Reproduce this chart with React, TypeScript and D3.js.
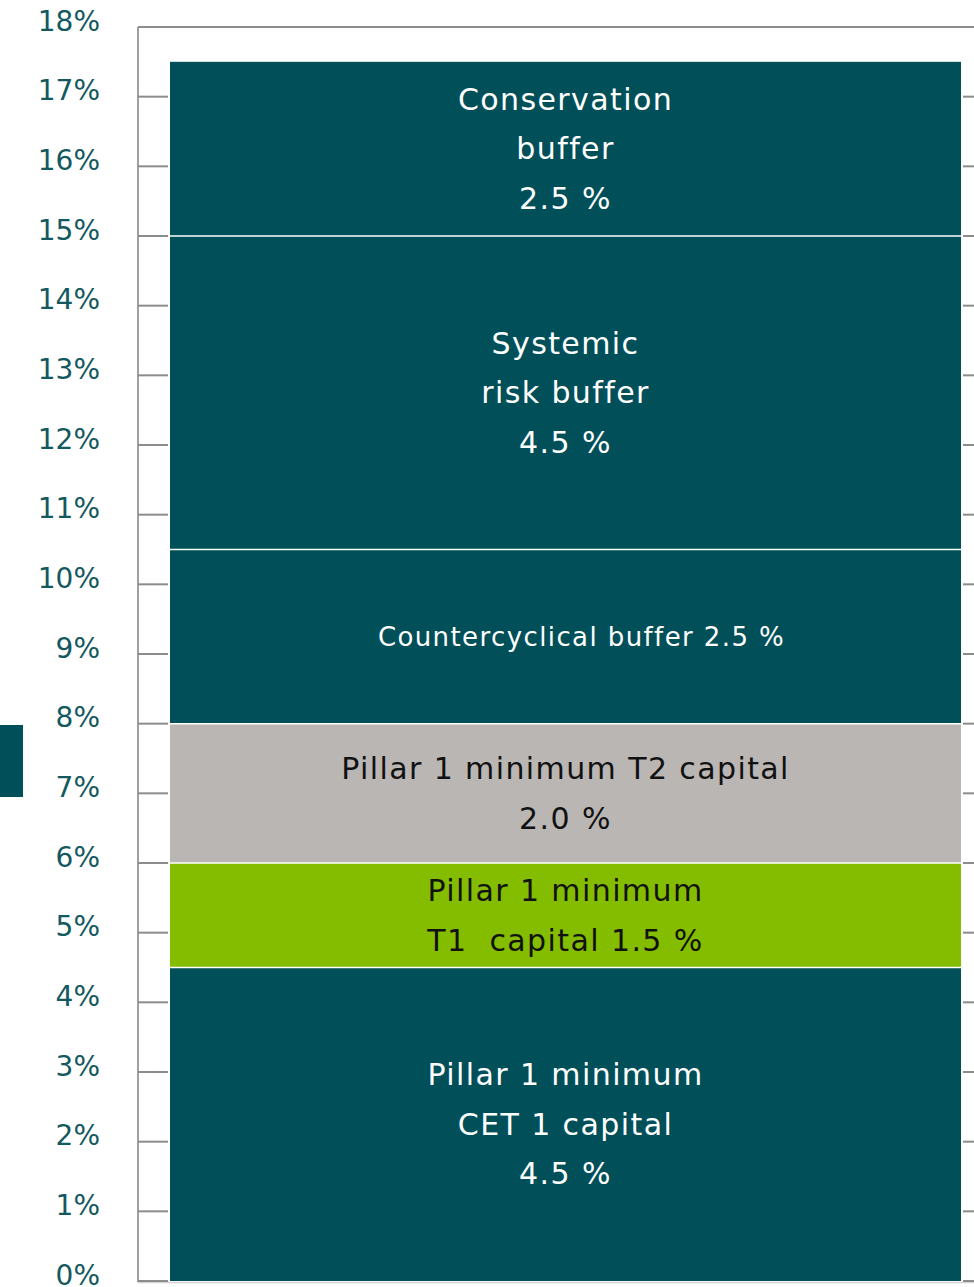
import React from 'react';
import * as d3 from 'd3';

// stacked capital requirement segments, bottom to top
const segmentNames = ['CET1', 'T1', 'T2', 'CCyB', 'SRB', 'CB'];
const segmentValues = [4.5, 1.5, 2.0, 2.5, 4.5, 2.5];
const segmentLabels = [
  ['Pillar 1 minimum', 'CET 1 capital', '4.5 %'],
  ['Pillar 1 minimum', 'T1  capital 1.5 %'],
  ['Pillar 1 minimum T2 capital', '2.0 %'],
  ['Countercyclical buffer 2.5 %'],
  ['Systemic', 'risk buffer', '4.5 %'],
  ['Conservation', 'buffer', '2.5 %'],
];
const segmentColors = ['#004f59', '#84bd00', '#bab6b3', '#004f59', '#004f59', '#004f59'];
const labelColors = ['#ffffff', '#111111', '#111111', '#ffffff', '#ffffff', '#ffffff'];
const tickValues = d3.range(0, 19); // 0% .. 18%

const W = 974;
const H = 1287;

const App: React.FC = () => {
  const y = d3.scaleLinear().domain([0, 18]).range([1281, 27]);
  const x = d3.scaleBand().domain(['req']).range([138, 994]).paddingInner(0).paddingOuter(0.0);
  const barX0 = 170;
  const barX1 = 961;
  const cx = (barX0 + barX1) / 2;

  // cumulative stack
  const row: Record<string, number> = {};
  segmentNames.forEach((n, i) => (row[n] = segmentValues[i]));
  const stacked = d3.stack<Record<string, number>>().keys(segmentNames)([row]);

  const lineH = 49.5;

  return (
    <div style={{ position: 'absolute', left: 0, top: 0, width: W, height: H, overflow: 'hidden' }}>
      <svg width={W} height={H} style={{ display: 'block' }}>
        {/* legend swatch at left edge */}
        <rect x={0} y={725} width={23} height={72} fill="#004f59" />

        {/* frame */}
        <line x1={138} x2={W} y1={27} y2={27} stroke="#8c8c8c" strokeWidth={2} />
        <line x1={138} x2={138} y1={27} y2={1282} stroke="#a0a0a0" strokeWidth={2} />
        <line x1={138} x2={W} y1={1282.5} y2={1282.5} stroke="#d4d4d4" strokeWidth={1.5} />

        {/* ticks and labels */}
        {tickValues.map((t) => (
          <g key={t}>
            <line x1={138} x2={168} y1={y(t)} y2={y(t)} stroke="#8c8c8c" strokeWidth={2} />
            <line x1={963} x2={W} y1={y(t)} y2={y(t)} stroke="#8c8c8c" strokeWidth={2} />
            <text
              x={100}
              y={y(t) - 6}
              textAnchor="end"
              dominantBaseline="central"
              fontFamily="DejaVu Sans"
              fontSize={28}
              fill="#14595f"
            >
              {t}%
            </text>
          </g>
        ))}

        {/* stacked bar */}
        {stacked.map((s, i) => {
          const [v0, v1] = s[0];
          return (
            <rect
              key={s.key}
              x={barX0}
              y={y(v1)}
              width={barX1 - barX0}
              height={y(v0) - y(v1)}
              fill={segmentColors[i]}
            />
          );
        })}

        {/* white separators between segments */}
        {stacked.slice(0, -1).map((s) => (
          <line
            key={'sep' + s.key}
            x1={barX0}
            x2={barX1}
            y1={y(s[0][1])}
            y2={y(s[0][1])}
            stroke="#ffffff"
            strokeWidth={1.5}
          />
        ))}

        {/* segment labels */}
        {stacked.map((s, i) => {
          const [v0, v1] = s[0];
          const mid = y((v0 + v1) / 2);
          const lines = segmentLabels[i];
          const small = lines.length === 1;
          return (
            <text
              key={'lab' + s.key}
              textAnchor="middle"
              fontFamily="DejaVu Sans"
              fontSize={small ? 26 : 30}
              letterSpacing={1.4}
              fill={labelColors[i]}
            >
              {lines.map((l, j) => (
                <tspan
                  key={j}
                  x={cx + (small ? 16 : 0)}
                  y={mid + (j - (lines.length - 1) / 2) * lineH}
                  dominantBaseline="central"
                  style={{ whiteSpace: 'pre' }}
                >
                  {l}
                </tspan>
              ))}
            </text>
          );
        })}
      </svg>
    </div>
  );
};

export default App;
